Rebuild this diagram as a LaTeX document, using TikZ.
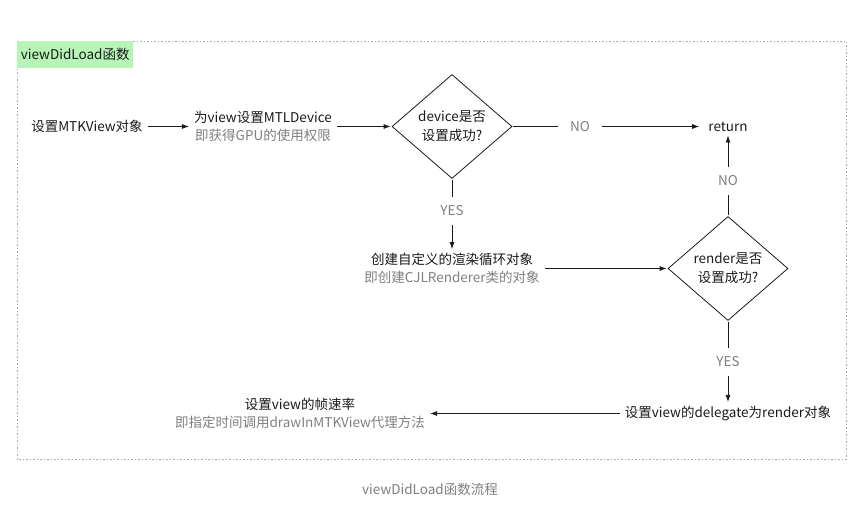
\documentclass[tikz,border=0pt]{standalone}
\usepackage{fontspec}
\setmainfont{Noto Sans CJK SC}
\usepackage{tikz}
\usetikzlibrary{positioning,shapes.geometric,arrows.meta}
\usepackage{xcolor}
\definecolor{LineGray}{HTML}{1A1A1A}
\definecolor{SubGray}{HTML}{7F7F7F}
\definecolor{FrameGray}{HTML}{A8A8A8}
\definecolor{TagGreen}{HTML}{B6F5B6}

\begin{document}
\begin{tikzpicture}[x=1pt, y=1pt,
				txt/.style={inner xsep=4pt, inner ysep=3pt, align=center,
					text=LineGray, font=\fontsize{13.5}{18}\selectfont},
				dec/.style={diamond, draw=LineGray, line width=0.8pt, aspect=1.15,
					minimum width=120pt, minimum height=104pt, inner sep=0pt,
					align=center, text=LineGray, font=\fontsize{13.5}{19}\selectfont},
				lbl/.style={fill=white, inner xsep=12pt, inner ysep=9pt,
					text=SubGray, font=\fontsize{13.5}{15}\selectfont},
				arrow/.style={-{Latex[length=7pt,width=5pt]}, LineGray, line width=0.8pt,
					shorten >=1pt, shorten <=1pt}
				]
				\useasboundingbox (0,0) rectangle (860,-508);
				% frame and tag
				\draw[FrameGray, line width=0.7pt, dash pattern=on 1.5pt off 2pt]
					(17,-41) rectangle (846,-459);
				\node[fill=TagGreen, anchor=north west, minimum width=116pt, minimum height=27pt,
					inner sep=0pt, font=\fontsize{13.5}{15}\selectfont, text=LineGray]
					(tag) at (17,-41) {viewDidLoad函数};
				% first row
				\node[dec] (d1) at (452,-126.5) {device是否\\设置成功?};
				\node[txt, on grid, left=189pt of d1] (mtl) {为view设置MTLDevice\\\textcolor{SubGray}{即获得GPU的使用权限}};
				\node[txt, on grid, left=176pt of mtl] (mtk) {设置MTKView对象};
				\node[txt, on grid, right=276pt of d1, inner xsep=8pt] (ret) {return};
				% second row
				\node[txt, on grid, below=142pt of d1] (rend) {创建自定义的渲染循环对象\\\textcolor{SubGray}{即创建CJLRenderer类的对象}};
				\node[dec, on grid, right=276pt of rend] (d2) {render是否\\设置成功?};
				% third row
				\node[txt, on grid, below=145pt of d2] (dlg) {设置view的delegate为render对象};
				\node[txt, on grid, left=428pt of dlg] (fps) {设置view的帧速率\\\textcolor{SubGray}{即指定时间调用drawInMTKView代理方法}};
				% connectors
				\draw[arrow] (mtk) -- (mtl);
				\draw[arrow] (mtl) -- (d1);
				\draw[arrow] (d1) -- node[lbl, pos=0.36] {NO} (ret);
				\draw[arrow] (d1) -- node[lbl, pos=0.45] {YES} (rend);
				\draw[arrow] (rend) -- (d2);
				\draw[arrow] (d2) -- node[lbl, pos=0.43] {NO} (ret);
				\draw[arrow] (d2) -- node[lbl] {YES} (dlg);
				\draw[arrow] (dlg) -- (fps);
				% caption
				\node[text=SubGray, font=\fontsize{13.5}{15}\selectfont] (cap) at (430,-489) {viewDidLoad函数流程};
			\end{tikzpicture}
\end{document}
